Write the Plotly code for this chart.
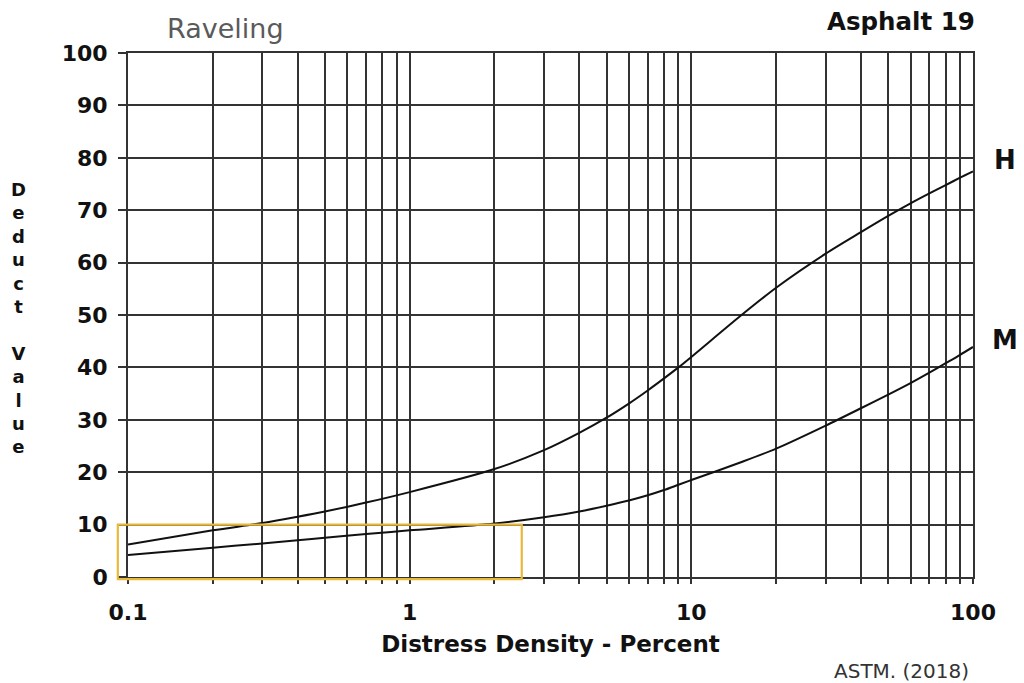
import math
import plotly.graph_objects as go

# Distress density (percent) and deduct values for the two severity curves
density = [0.1, 0.2, 0.3, 0.4, 0.5, 0.7, 1, 2, 3, 4, 5, 6, 7, 8, 9, 10,
           15, 20, 30, 40, 50, 60, 70, 80, 90, 100]
deduct_high = [6.2, 8.9, 10.3, 11.5, 12.5, 14.2, 16.2, 20.6, 24.2, 27.5, 30.4,
               33.1, 35.6, 37.9, 40.0, 42.0, 49.9, 55.2, 61.7, 65.8, 68.9,
               71.3, 73.2, 74.8, 76.2, 77.4]
deduct_medium = [4.2, 5.6, 6.4, 7.0, 7.5, 8.2, 8.9, 10.2, 11.4, 12.5, 13.6,
                 14.6, 15.6, 16.6, 17.6, 18.5, 21.9, 24.5, 28.9, 32.2, 34.8,
                 37.0, 39.0, 40.8, 42.4, 43.9]

# Grid ticks: every 1..9 multiple per decade, labels only at decades
x_tickvals = [m * 10 ** e for e in (-1, 0, 1) for m in range(1, 10)] + [100]
x_ticktext = ["0.1"] + [""] * 8 + ["1"] + [""] * 8 + ["10"] + [""] * 8 + ["100"]
y_tickvals = list(range(0, 101, 10))

# Highlighted low-deduct region (density range, deduct range)
box_density = [0.092, 2.5]
box_deduct = [-0.4, 10]

X_RANGE = [-1, 2]
Y_RANGE = [0, 100]

GRID = "#333333"
FONT = "DejaVu Sans"

fig = go.Figure()
for vals in (deduct_high, deduct_medium):
    fig.add_trace(go.Scatter(
        x=density, y=vals, mode="lines",
        line=dict(color="#111111", width=2, shape="spline", smoothing=0.8),
        hoverinfo="skip", showlegend=False,
    ))


def x_frac(v):
    return (math.log10(v) - X_RANGE[0]) / (X_RANGE[1] - X_RANGE[0])


def y_frac(v):
    return (v - Y_RANGE[0]) / (Y_RANGE[1] - Y_RANGE[0])


# highlight box (paper refs so it may reach just outside the plot area)
fig.add_shape(
    type="rect", xref="paper", yref="paper",
    x0=x_frac(box_density[0]), x1=x_frac(box_density[1]),
    y0=y_frac(box_deduct[0]), y1=y_frac(box_deduct[1]),
    line=dict(color="#E8B83A", width=2.2), layer="above",
)

fig.update_xaxes(
    type="log", range=X_RANGE,
    tickvals=x_tickvals, ticktext=[f"<b>{t}</b>" if t else "" for t in x_ticktext],
    showgrid=True, gridcolor=GRID, gridwidth=1.8,
    ticks="outside", ticklen=5, tickcolor=GRID, tickwidth=1.8,
    showline=True, linecolor=GRID, linewidth=1.8, mirror=True,
    ticklabelstandoff=10,
    tickfont=dict(family=FONT, size=22, color="#111111"),
    title=dict(text="<b>Distress Density - Percent</b>", standoff=12,
               font=dict(family=FONT, size=23, color="#111111")),
    zeroline=False,
)
fig.update_yaxes(
    range=Y_RANGE, tickvals=y_tickvals,
    ticktext=[f"<b>{v}</b>" for v in y_tickvals],
    showgrid=True, gridcolor=GRID, gridwidth=1.8,
    ticks="outside", ticklen=8, tickcolor=GRID, tickwidth=1.8,
    showline=True, linecolor=GRID, linewidth=1.8, mirror=True,
    ticklabelstandoff=6,
    tickfont=dict(family=FONT, size=22, color="#111111"),
    zeroline=False,
)

annotations = [
    dict(text="Raveling", x=225, y=28, font=dict(size=27, color="#5a5a5a")),
    dict(text="<b>Asphalt 19</b>", x=901, y=22, font=dict(size=24.5, color="#111111")),
    dict(text="<b>H</b>", x=1005, y=160, font=dict(size=26, color="#111111")),
    dict(text="<b>M</b>", x=1005, y=340, font=dict(size=26, color="#111111")),
    dict(text="ASTM. (2018)", x=901, y=671, font=dict(size=20, color="#333333")),
    dict(text="<b>" + "<br>".join(list("Deduct") + [""] + list("Value")) + "</b>",
         x=19, y=318, font=dict(size=18, color="#111111")),
]
for a in annotations:
    a["font"]["family"] = FONT
    fig.add_annotation(
        text=a["text"], xref="paper", yref="paper",
        x=(a["x"] - 128) / 845, y=(577 - a["y"]) / 524,
        xanchor="center", yanchor="middle", showarrow=False,
        font=a["font"],
    )

fig.update_layout(
    width=1024, height=683,
    margin=dict(l=128, r=51, t=53, b=106),
    paper_bgcolor="white", plot_bgcolor="white",
)

fig.write_html("out.html")
